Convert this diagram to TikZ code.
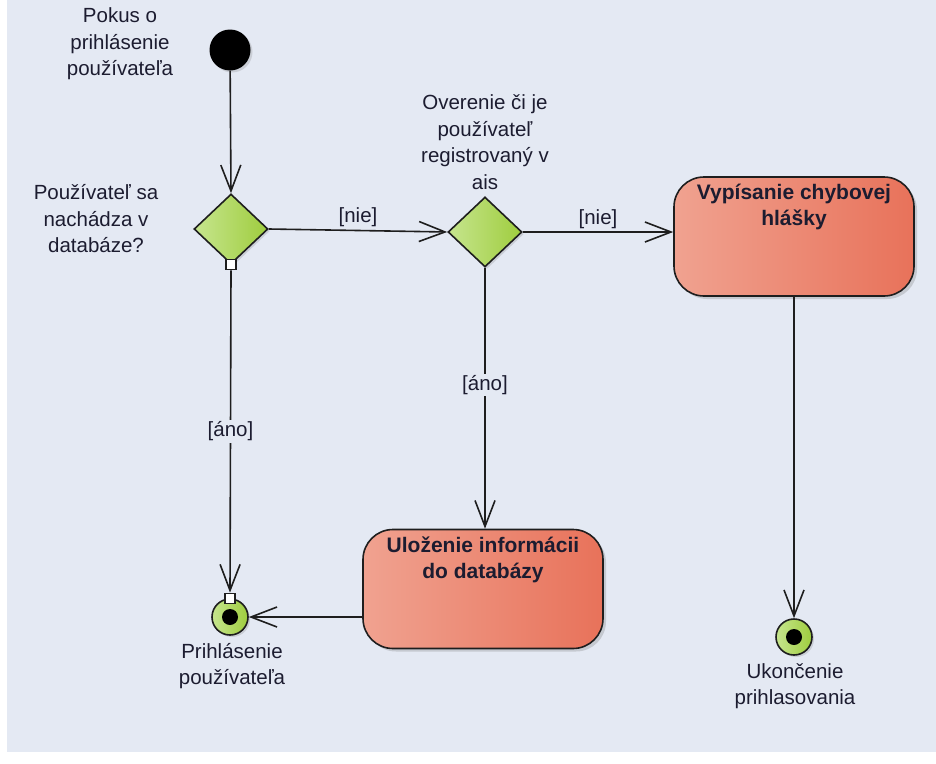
\documentclass[tikz,border=0pt]{standalone}
\usepackage{fontspec}
\setmainfont{Liberation Sans}
\usetikzlibrary{arrows.meta,shapes.geometric,shadows}
\definecolor{bgc}{HTML}{E4E9F3}
\definecolor{linec}{HTML}{1E1E1E}
\definecolor{txtc}{HTML}{1C1C30}
\definecolor{dl}{HTML}{C6E58E}
\definecolor{dr}{HTML}{9FCD3E}
\definecolor{bl}{HTML}{F0A290}
\definecolor{br}{HTML}{E8725A}
\tikzset{
  every node/.style={text=txtc},
  lbl/.style={font=\fontsize{20.5}{26.5}\selectfont, align=center, inner sep=0pt},
  guard/.style={font=\fontsize{20.5}{24}\selectfont, fill=bgc, inner sep=1.5pt},
  flow/.style={draw=linec, line width=1.6pt, -{Straight Barb[length=26pt,width=20pt,line width=1.6pt]}},
  decision/.style={diamond, draw=linec, line width=1.6pt, left color=dl, right color=dr,
    minimum width=74pt, minimum height=70pt, inner sep=0pt,
    drop shadow={shadow xshift=2pt, shadow yshift=-2pt, opacity=0.25}},
  action/.style={rectangle, rounded corners=30pt, draw=linec, line width=1.6pt, left color=bl, right color=br,
    minimum width=240pt, minimum height=119pt, inner sep=0pt,
    drop shadow={shadow xshift=3pt, shadow yshift=-3pt, opacity=0.3}},
  finalnode/.style={circle, draw=linec, line width=1.6pt, left color=dl, right color=dr,
    minimum size=36pt, inner sep=0pt,
    drop shadow={shadow xshift=2pt, shadow yshift=-2pt, opacity=0.25}},
  dot/.style={circle, fill=black, minimum size=16pt, inner sep=0pt},
  pin/.style={rectangle, draw=linec, line width=1.2pt, fill=white, minimum size=10pt, inner sep=0pt},
  boxtext/.style={font=\bfseries\fontsize{21}{26}\selectfont, align=center, inner sep=0pt}
}
\begin{document}
\begin{tikzpicture}[x=1pt,y=-1pt]
\useasboundingbox (0,0) rectangle (936,763);
\fill[white] (0,0) rectangle (936,763);
\fill[bgc] (7,0) rectangle (936,752);

% start
\node[circle, fill=black, minimum size=41pt, inner sep=0pt,
  drop shadow={shadow xshift=2pt, shadow yshift=-2pt, opacity=0.25}] (start) at (230,50) {};
\node[lbl] (startlbl) at (120,44) {Pokus o\\prihlásenie\\používateľa};

% decisions
\node[decision] (d1) at (231,229) {};
\node[lbl] (d1lbl) at (96,219) {Používateľ sa\\nachádza v\\databáze?};
\node[pin] (p1) at (d1.south) {};

\node[decision] (d2) at (485,232) {};
\node[lbl] (d2lbl) at (485,142) {Overenie či je\\používateľ\\registrovaný v\\ais};

% actions
\node[action] (b1) at (794,236.5) {};
\node[boxtext, anchor=north] (b1t) at ([yshift=-8pt]b1.north) {Vypísanie chybovej\\hlášky};

\node[action] (b2) at (483,589) {};
\node[boxtext, anchor=north] (b2t) at ([yshift=-8pt]b2.north) {Uloženie informácii\\do databázy};

% finals
\node[finalnode] (e1) at (230,617) {};
\node[dot] (e1d) at (e1) {};
\node[pin] (p2) at (e1.north) {};
\node[lbl] (e1lbl) at (232,666) {Prihlásenie\\používateľa};

\node[finalnode] (e2) at (794,637) {};
\node[dot] (e2d) at (e2) {};
\node[lbl] (e2lbl) at (795,686) {Ukončenie\\prihlasovania};

% flows
\draw[flow] (start) -- (d1.north);
\draw[flow] (d1.east) -- node[guard, pos=0.5, above=1pt] (g1) {[nie]} (d2.west);
\draw[flow] (d2.east) -- node[guard, pos=0.5, above=1pt] (g2) {[nie]} (b1.west |- d2.east);
\draw[flow] (d2.south) -- node[guard, pos=0.45] (g3) {[áno]} (d2.south |- b2.north);
\draw[flow] (p1.south) -- node[guard, pos=0.5] (g4) {[áno]} (p2.north);
\draw[flow] (b2.west |- e1.east) -- (e1.east);
\draw[flow] (b1.south) -- (e2.north);
\end{tikzpicture}
\end{document}
